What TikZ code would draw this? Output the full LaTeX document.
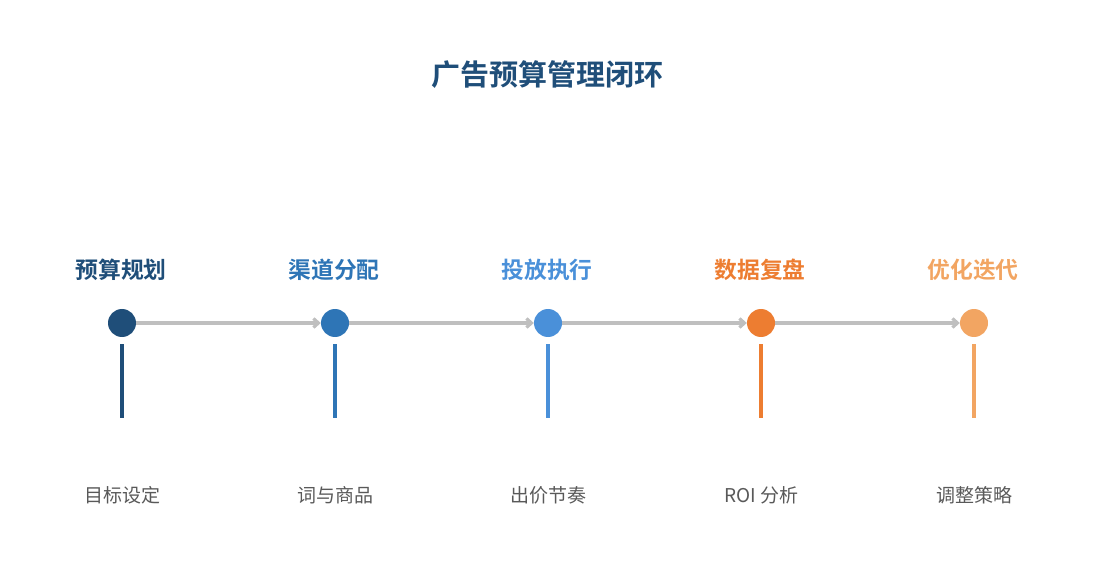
\documentclass[tikz,border=0pt]{standalone}
\usepackage{fontspec}
\usepackage{xcolor}
\usetikzlibrary{arrows.meta}
\usetikzlibrary{positioning}
\newfontfamily\cjk{Noto Sans CJK SC}
\newfontfamily\cjkbold{Noto Sans CJK SC Bold}

\begin{document}
\begin{tikzpicture}[x=1pt, y=-1pt]
			\definecolor{STEPA}{RGB}{31, 78, 121}
			\definecolor{STEPB}{RGB}{46, 117, 182}
			\definecolor{STEPC}{RGB}{74, 144, 217}
			\definecolor{STEPD}{RGB}{237, 125, 49}
			\definecolor{STEPE}{RGB}{242, 165, 98}
			\definecolor{FLOW}{RGB}{191, 191, 191}
			\definecolor{NOTE}{RGB}{89, 89, 89}
			\tikzset{
				dot/.style={circle, inner sep=0pt, minimum size=28pt},
				stage/.style={font={\cjkbold\fontsize{22.8}{27}\selectfont}},
				note/.style={font={\cjk\fontsize{19}{23}\selectfont}, color={NOTE}},
				flow/.style={-{Straight Barb[length=5pt, width=9pt]}, line width={3.2pt}, color={FLOW}},
				stem/.style={line width={3.5pt}}
			}
			\useasboundingbox (0, 0) rectangle (1095, 585);
			\node[font={\cjkbold\fontsize{29}{34}\selectfont}, color={STEPA}] (title) at (547, 75) {广告预算管理闭环};
			% stage titles
			\node[stage, color={STEPA}] (planlabel) at (121, 270) {预算规划};
			\node[stage, color={STEPB}] (channellabel) at (334, 270) {渠道分配};
			\node[stage, color={STEPC}] (runlabel) at (547, 270) {投放执行};
			\node[stage, color={STEPD}] (reviewlabel) at (760, 270) {数据复盘};
			\node[stage, color={STEPE}] (tunelabel) at (973, 270) {优化迭代};
			% dots on the line
			\node[dot, fill={STEPA}] (plan) at (122, 323) {};
			\node[dot, fill={STEPB}] (channel) at (335, 323) {};
			\node[dot, fill={STEPC}] (run) at (548, 323) {};
			\node[dot, fill={STEPD}] (review) at (761, 323) {};
			\node[dot, fill={STEPE}] (tune) at (974, 323) {};
			\draw[flow] (plan) to (channel);
			\draw[flow] (channel) to (run);
			\draw[flow] (run) to (review);
			\draw[flow] (review) to (tune);
			% stems
			\coordinate (plantop) at (122, 344);
			\coordinate (planfoot) at (122, 418);
			\coordinate (channeltop) at (335, 344);
			\coordinate (channelfoot) at (335, 418);
			\coordinate (runtop) at (548, 344);
			\coordinate (runfoot) at (548, 418);
			\coordinate (reviewtop) at (761, 344);
			\coordinate (reviewfoot) at (761, 418);
			\coordinate (tunetop) at (974, 344);
			\coordinate (tunefoot) at (974, 418);
			\draw[stem, color={STEPA}] (plantop) to (planfoot);
			\draw[stem, color={STEPB}] (channeltop) to (channelfoot);
			\draw[stem, color={STEPC}] (runtop) to (runfoot);
			\draw[stem, color={STEPD}] (reviewtop) to (reviewfoot);
			\draw[stem, color={STEPE}] (tunetop) to (tunefoot);
			% notes
			\node[note] (plannote) at (122, 495) {目标设定};
			\node[note] (channelnote) at (335, 495) {词与商品};
			\node[note] (runnote) at (548, 495) {出价节奏};
			\node[note] (reviewnote) at (761, 495) {ROI 分析};
			\node[note] (tunenote) at (974, 495) {调整策略};
		\end{tikzpicture}
\end{document}
